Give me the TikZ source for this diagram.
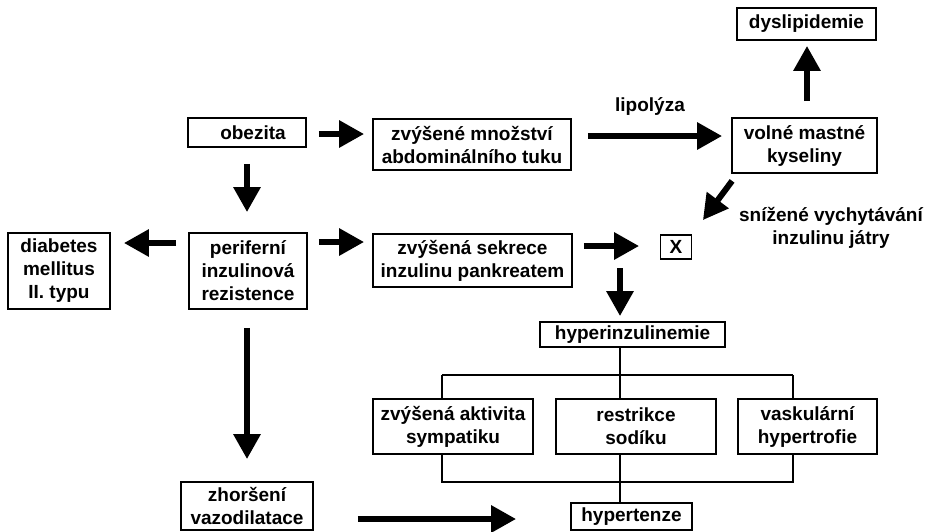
\documentclass[tikz,border=0pt]{standalone}
\usepackage{fontspec}
\setmainfont{Liberation Sans}
\usetikzlibrary{arrows.meta,calc}
\begin{document}
\begin{tikzpicture}[x=1pt,y=-1pt,
  txt/.style={font=\fontsize{19pt}{23pt}\bfseries\selectfont},
  box/.style={draw,line width=1.8pt,inner sep=0pt,align=center,txt},
  lbl/.style={inner sep=0pt,align=center,txt},
  bigarrow/.style={line width=6pt,-{Triangle[length=25pt,width=26pt]}},
  tree/.style={line width=1.6pt}]
\useasboundingbox (0,0) rectangle (927,531);
% boxes
\node[box,minimum width=118pt,minimum height=29pt] (obezita) at (247,132.5) {\hspace*{12pt}obezita};
\node[box,minimum width=198pt,minimum height=51pt] (mnozstvi) at (472,144.5) {zvýšené množství\\abdominálního tuku};
\node[box,minimum width=145pt,minimum height=55pt] (volne) at (804.5,145.5) {volné mastné\\kyseliny};
\node[box,minimum width=139pt,minimum height=32pt] (dysl) at (806.5,24) {dyslipidemie};
\node[box,minimum width=118pt,minimum height=76pt] (periferni) at (248,271) {periferní\\inzulinová\\rezistence};
\node[box,minimum width=102pt,minimum height=76pt] (diabetes) at (59,271) {diabetes\\mellitus\\II. typu};
\node[box,minimum width=199pt,minimum height=53pt] (sekrece) at (472.5,260.5) {zvýšená sekrece\\inzulinu pankreatem};
\node[box,minimum width=31pt,minimum height=24pt] (X) at (676,247) {X};
\node[box,minimum width=185pt,minimum height=25pt] (hyper) at (632.5,334.5) {hyperinzulinemie};
\node[box,minimum width=160pt,minimum height=55pt] (aktivita) at (453,426.5) {zvýšená aktivita\\sympatiku};
\node[box,minimum width=160pt,minimum height=55pt] (restrikce) at (636,426.5) {restrikce\\sodíku};
\node[box,minimum width=139pt,minimum height=55pt] (vask) at (807.5,426.5) {vaskulární\\hypertrofie};
\node[box,minimum width=121pt,minimum height=27pt] (hypertenze) at (631.5,516.5) {hypertenze};
\node[box,minimum width=132pt,minimum height=48pt] (zhorseni) at (247,506) {zhoršení\\vazodilatace};
% labels
\node[lbl] (lipolyza) at (650,106) {lipolýza};
\node[lbl] (snizene) at (831,228) {snížené vychytávání\\inzulinu játry};
% arrows
\draw[bigarrow] ($(obezita.east)+(12,1.5)$) -- ($(mnozstvi.west)+(-8,-10.5)$);
\draw[bigarrow] ($(mnozstvi.east)+(16,-8.5)$) -- ($(volne.west)+(-9,-9.5)$);
\draw[bigarrow] ($(volne.north)+(2.5,-16)$) -- ($(dysl.south)+(0.5,5)$);
\draw[bigarrow] ($(volne.south west)+(1,7)$) -- ($(X.north east)+(10.5,-14)$);
\draw[bigarrow] ($(obezita.south)+(0,16)$) -- ($(periferni.north)+(-1,-20)$);
\draw[bigarrow] ($(periferni.west)+(-12,-28)$) -- ($(diabetes.east)+(13,-28)$);
\draw[bigarrow] ($(periferni.east)+(11,-29)$) -- ($(sekrece.west)+(-8,-18.5)$);
\draw[bigarrow] ($(sekrece.east)+(11,-14.5)$) -- ($(X.west)+(-20.5,-1)$);
\coordinate (j) at (620,268);
\draw[bigarrow] (j) -- ($(hyper.north)+(-12.5,-5)$);
\draw[bigarrow] ($(periferni.south)+(-1,18)$) -- ($(zhorseni.north)+(0,-22)$);
\draw[bigarrow] ($(zhorseni.east)+(44,13)$) -- ($(hypertenze.west)+(-54,2.5)$);
% tree connectors
\coordinate (ta) at (442,375);
\coordinate (tb) at (793,375);
\coordinate (tc) at (620,375);
\coordinate (ba) at (442,482);
\coordinate (bb) at (793,482);
\coordinate (bc) at (620,482);
\draw[tree] (tc |- hyper.south) -- (tc);
\draw[tree] (ta) -- (tb);
\draw[tree] (ta) -- (ta |- aktivita.north);
\draw[tree] (tc) -- (tc |- restrikce.north);
\draw[tree] (tb) -- (tb |- vask.north);
\draw[tree] (ba |- aktivita.south) -- (ba) -- (bb) -- (bb |- vask.south);
\draw[tree] (bc |- restrikce.south) -- (bc);
\draw[tree] (bc) -- (bc |- hypertenze.north);
\end{tikzpicture}
\end{document}
